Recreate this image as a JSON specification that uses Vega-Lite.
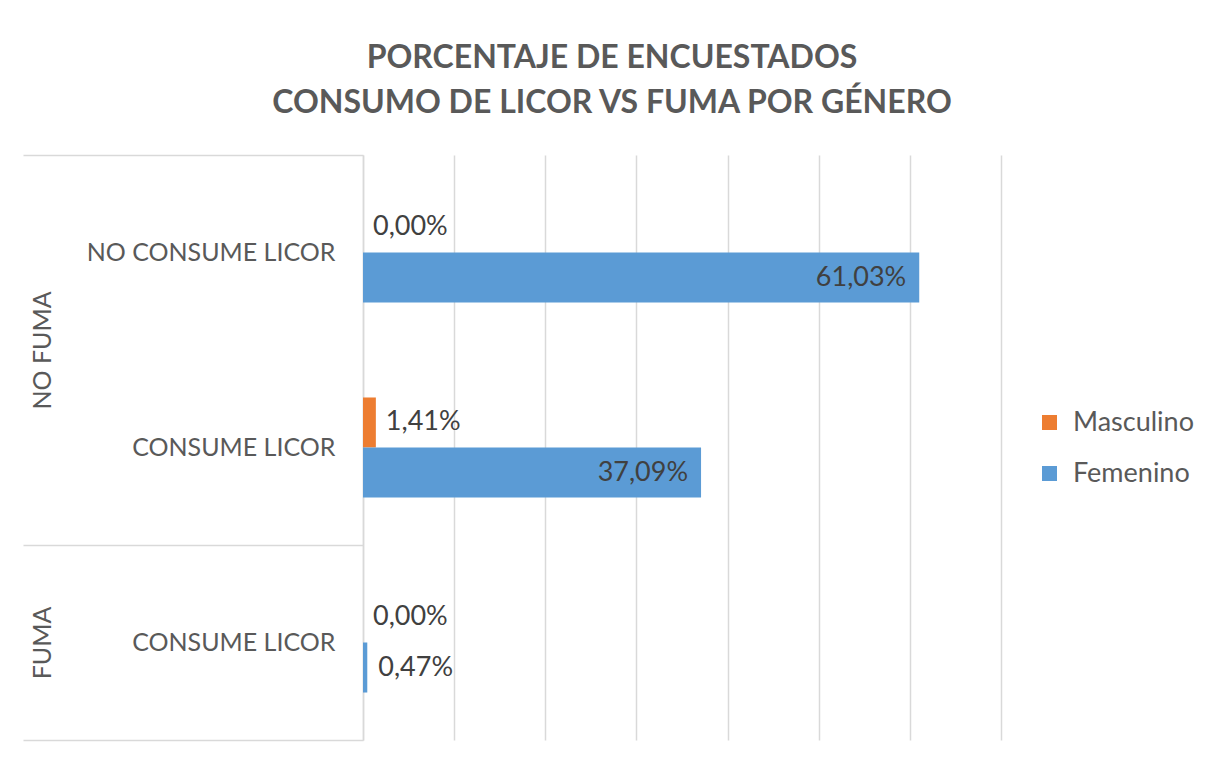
{
  "$schema": "https://vega.github.io/schema/vega-lite/v6.json",
  "width": 638,
  "height": 585,
  "autosize": {"type": "none"},
  "padding": {"left": 363, "top": 155, "right": 204, "bottom": 18},
  "background": "white",
  "title": {
    "text": ["PORCENTAJE DE ENCUESTADOS", "CONSUMO DE LICOR VS FUMA POR GÉNERO"],
    "anchor": "middle",
    "frame": "group",
    "dx": -70,
    "offset": 9,
    "baseline": "alphabetic",
    "lineHeight": 45,
    "font": "Lato",
    "fontSize": 32,
    "fontWeight": "bold",
    "color": "#595959"
  },
  "datasets": {
    "barras": [
      {"fuma": "NO FUMA", "licor": "NO CONSUME LICOR", "genero": "Masculino", "pct": 0.0},
      {"fuma": "NO FUMA", "licor": "NO CONSUME LICOR", "genero": "Femenino", "pct": 0.6103},
      {"fuma": "NO FUMA", "licor": "CONSUME LICOR", "genero": "Masculino", "pct": 0.0141},
      {"fuma": "NO FUMA", "licor": "CONSUME LICOR", "genero": "Femenino", "pct": 0.3709},
      {"fuma": "FUMA", "licor": "CONSUME LICOR", "genero": "Masculino", "pct": 0.0},
      {"fuma": "FUMA", "licor": "CONSUME LICOR", "genero": "Femenino", "pct": 0.0047}
    ],
    "grupos": [
      {"fuma": "NO FUMA", "inicio": 1, "fin": 3},
      {"fuma": "FUMA", "inicio": 0, "fin": 1}
    ]
  },
  "layer": [
    {
      "data": {"name": "barras"},
      "transform": [{"calculate": "datum.fuma + '|' + datum.licor", "as": "cat"}],
      "encoding": {
        "y": {
          "field": "cat",
          "type": "nominal",
          "sort": ["NO FUMA|NO CONSUME LICOR", "NO FUMA|CONSUME LICOR", "FUMA|CONSUME LICOR"],
          "scale": {"paddingInner": 0.487, "paddingOuter": 0.2435},
          "axis": {
            "title": null,
            "orient": "left",
            "ticks": false,
            "tickSize": 0,
            "domain": true,
            "domainColor": "#d9d9d9",
            "domainWidth": 1.5,
            "grid": false,
            "labelExpr": "split(datum.label, '|')[1]",
            "labelPadding": 28,
            "labelFont": "Lato",
            "labelFontSize": 25,
            "labelColor": "#595959",
            "labelLimit": 400
          }
        },
        "yOffset": {"field": "genero", "sort": ["Masculino", "Femenino"]},
        "x": {
          "field": "pct",
          "type": "quantitative",
          "scale": {"domain": [0, 0.7], "nice": false},
          "axis": {
            "title": null,
            "values": [0, 0.1, 0.2, 0.3, 0.4, 0.5, 0.6, 0.7],
            "grid": true,
            "gridColor": "#d9d9d9",
            "gridWidth": 1.5,
            "labels": false,
            "ticks": false,
            "domain": false
          }
        }
      },
      "layer": [
        {
          "mark": {"type": "bar"},
          "encoding": {
            "color": {
              "field": "genero",
              "type": "nominal",
              "scale": {"domain": ["Masculino", "Femenino"], "range": ["#ED7D31", "#5B9BD5"]},
              "legend": {
                "title": null,
                "orient": "none",
                "legendX": 673,
                "legendY": 254,
                "symbolType": "square",
                "symbolSize": 225,
                "symbolStrokeWidth": 0,
                "labelFont": "Lato",
                "labelFontSize": 27,
                "labelColor": "#595959",
                "labelOffset": 10,
                "rowPadding": 23
              }
            }
          }
        },
        {
          "transform": [{"filter": "datum.genero === 'Masculino'"}],
          "mark": {"type": "text", "align": "left", "baseline": "middle", "dx": 10, "font": "Lato", "fontSize": 27, "color": "#404040"},
          "encoding": {"text": {"field": "pct", "type": "quantitative", "format": ".2%"}}
        },
        {
          "transform": [{"filter": "datum.genero === 'Femenino' && datum.pct >= 0.05"}],
          "mark": {"type": "text", "align": "right", "baseline": "middle", "dx": -13, "font": "Lato", "fontSize": 27, "color": "#404040"},
          "encoding": {"text": {"field": "pct", "type": "quantitative", "format": ".2%"}}
        },
        {
          "transform": [{"filter": "datum.genero === 'Femenino' && datum.pct < 0.05"}],
          "mark": {"type": "text", "align": "left", "baseline": "middle", "dx": 11, "font": "Lato", "fontSize": 27, "color": "#404040"},
          "encoding": {"text": {"field": "pct", "type": "quantitative", "format": ".2%"}}
        }
      ]
    },
    {
      "data": {"name": "grupos"},
      "mark": {"type": "rule", "opacity": 0},
      "encoding": {
        "y": {
          "field": "inicio",
          "type": "quantitative",
          "scale": {"domain": [0, 3], "nice": false, "zero": false},
          "axis": {
            "title": null,
            "orient": "left",
            "values": [0, 1, 3],
            "labels": false,
            "domain": false,
            "grid": false,
            "ticks": true,
            "tickSize": 340,
            "tickColor": "#d9d9d9",
            "tickWidth": 1.5
          }
        },
        "y2": {"field": "fin"}
      }
    },
    {
      "data": {"name": "grupos"},
      "mark": {"type": "rule", "opacity": 0},
      "encoding": {
        "y": {
          "field": "inicio",
          "type": "quantitative",
          "scale": {"domain": [0, 3], "nice": false, "zero": false},
          "axis": {
            "title": null,
            "orient": "left",
            "values": [0.5, 2],
            "labelExpr": "datum.value == 2 ? 'NO FUMA' : 'FUMA'",
            "labelAngle": 270,
            "labelAlign": "center",
            "labelBaseline": "middle",
            "labelPadding": 321,
            "labelFont": "Lato",
            "labelFontSize": 25,
            "labelColor": "#595959",
            "labelLimit": 400,
            "domain": false,
            "grid": false,
            "ticks": false,
            "tickSize": 0
          }
        },
        "y2": {"field": "fin"}
      }
    }
  ],
  "resolve": {"scale": {"y": "independent"}, "axis": {"y": "independent"}},
  "config": {
    "view": {"stroke": null},
    "locale": {"number": {"decimal": ",", "thousands": ".", "grouping": [3], "currency": ["", " €"]}}
  }
}
